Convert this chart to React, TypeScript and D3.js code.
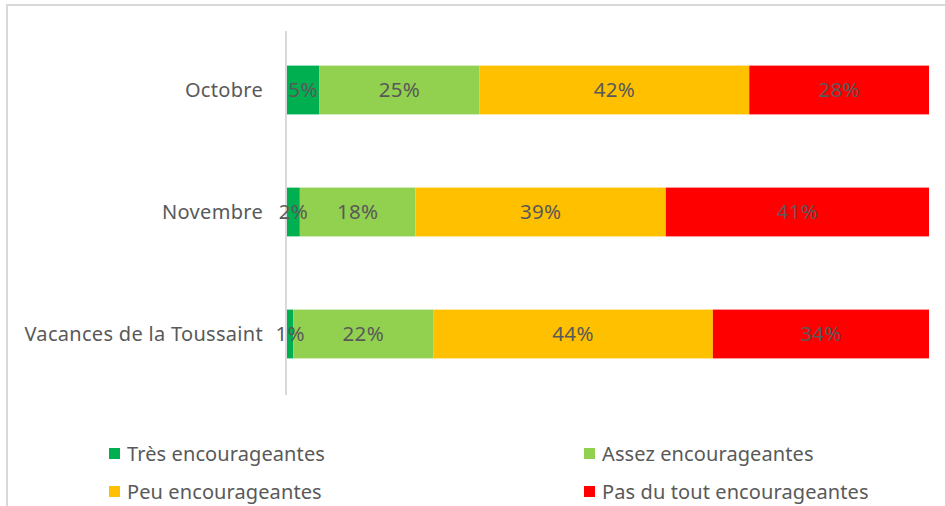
import React, { useEffect, useRef } from "react";
import * as d3 from "d3";

const categories = ["Octobre", "Novembre", "Vacances de la Toussaint"];
const seriesNames = ["Très encourageantes", "Assez encourageantes", "Peu encourageantes", "Pas du tout encourageantes"];
const tres = [5, 2, 1];
const assez = [25, 18, 22];
const peu = [42, 39, 44];
const pasDuTout = [28, 41, 34];
const colors = ["#00B050", "#92D050", "#FFC000", "#FF0000"];

const W = 945;
const H = 506;
const FONT = "'Noto Sans', 'Open Sans', sans-serif";

export default function App() {
  const ref = useRef<SVGSVGElement | null>(null);

  useEffect(() => {
    const svg = d3.select(ref.current);
    svg.selectAll("*").remove();

    const rows = categories.map((c, i) => ({
      cat: c,
      s0: tres[i],
      s1: assez[i],
      s2: peu[i],
      s3: pasDuTout[i],
    }));
    const keys = ["s0", "s1", "s2", "s3"];
    const stack = d3.stack<any>().keys(keys).offset(d3.stackOffsetExpand);
    const stacked = stack(rows);

    const x = d3.scaleLinear().domain([0, 1]).range([287, 929]);
    const y = d3.scaleBand().domain(categories).range([29, 395]).paddingInner(0.6).paddingOuter(0.3);

    // frame
    svg.append("path")
      .attr("d", `M7,${H} L7,5 L${W},5`)
      .attr("fill", "none")
      .attr("stroke", "#d9d9d9")
      .attr("stroke-width", 2);

    // bars
    stacked.forEach((layer, li) => {
      const g = svg.append("g");
      layer.forEach((d: any, i: number) => {
        const x0 = x(d[0]);
        const x1 = x(d[1]);
        g.append("rect")
          .attr("x", x0)
          .attr("y", y(categories[i])!)
          .attr("width", x1 - x0)
          .attr("height", y.bandwidth())
          .attr("fill", colors[li]);
      });
    });

    // axis line
    svg.append("line")
      .attr("x1", 286).attr("x2", 286)
      .attr("y1", 31).attr("y2", 395)
      .attr("stroke", "#d9d9d9").attr("stroke-width", 2);

    // data labels
    const vals = [tres, assez, peu, pasDuTout];
    stacked.forEach((layer, li) => {
      layer.forEach((d: any, i: number) => {
        svg.append("text")
          .attr("x", (x(d[0]) + x(d[1])) / 2)
          .attr("y", y(categories[i])! + y.bandwidth() / 2)
          .attr("dy", "0.35em")
          .attr("text-anchor", "middle")
          .attr("font-family", FONT)
          .attr("font-size", 20.5)
          .attr("letter-spacing", 0.3)
          .attr("fill", "#595959")
          .text(vals[li][i] + "%");
      });
    });

    // category labels
    categories.forEach((c) => {
      svg.append("text")
        .attr("x", 263)
        .attr("y", y(c)! + y.bandwidth() / 2)
        .attr("dy", "0.35em")
        .attr("text-anchor", "end")
        .attr("font-family", FONT)
        .attr("font-size", 20)
        .attr("letter-spacing", 0.3)
        .attr("fill", "#595959")
        .text(c);
    });

    // legend
    const legendPos = [
      { x: 109, y: 448 },
      { x: 584, y: 448 },
      { x: 109, y: 486 },
      { x: 584, y: 486 },
    ];
    seriesNames.forEach((n, i) => {
      const p = legendPos[i];
      svg.append("rect")
        .attr("x", p.x).attr("y", p.y)
        .attr("width", 11).attr("height", 11)
        .attr("fill", colors[i]);
      svg.append("text")
        .attr("x", p.x + 18)
        .attr("y", p.y + 5.5)
        .attr("dy", "0.35em")
        .attr("font-family", FONT)
        .attr("font-size", 20)
        .attr("letter-spacing", 0.1)
        .attr("fill", "#595959")
        .text(n);
    });
  }, []);

  return (
    <svg
      ref={ref}
      width={W}
      height={H}
      style={{ position: "absolute", left: 0, top: 0, background: "#fff" }}
    />
  );
}
